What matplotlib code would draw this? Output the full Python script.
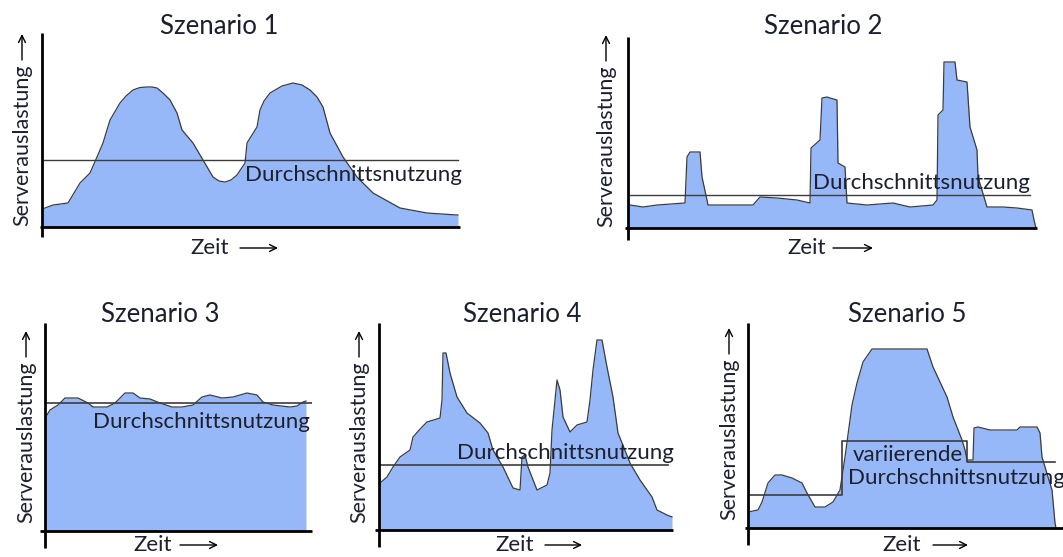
import matplotlib
matplotlib.use("Agg")
import matplotlib.pyplot as plt

W, H = 1063, 557
plt.rcParams['font.family'] = ['Lato', 'DejaVu Sans']

# Zeit (Pixel ab y-Achse) und Auslastung (Pixel ueber x-Achse)
t1 = [0, 3, 11, 26, 38, 48, 55, 61, 68, 78, 84, 91, 98, 105, 110, 115, 121, 128, 135, 140,
      151, 161, 171, 177, 183, 189, 195, 203, 205, 215, 218, 222, 228, 240, 251, 260, 268, 275,
      281, 288, 301, 315, 331, 358, 385, 415, 416]
l1 = [18, 19, 22, 24, 44, 54, 70, 84, 107, 124, 131, 137, 139.5, 140, 140, 139, 134, 127, 114, 97,
      84, 67, 50, 46, 45, 47, 52, 64, 84, 100, 117, 126, 134, 141, 144, 142, 137, 130,
      120, 94, 70, 50, 34, 19, 14, 12, 12]
avg1 = 67

t2 = [0, 2, 15, 29, 57, 59, 62, 72, 74, 79, 80, 125, 132, 149, 169, 182, 183, 192, 194, 199,
      202, 209, 210, 217, 219, 239, 265, 282, 305, 309, 310, 315, 316, 327, 329, 339, 342, 349,
      350, 359, 375, 389, 404, 406, 408]
l2 = [23, 23, 21, 23, 25, 71, 76, 76, 51, 28, 23, 23, 31, 30, 28, 25, 80, 88, 130, 131,
      130, 128, 65, 61, 25, 23, 25, 21, 23, 28, 113, 118, 166, 166, 148, 146, 101, 78,
      51, 21, 21, 20, 18, 8, 0]
avg2 = 33

t3 = [0, 2, 5, 13, 20, 33, 43, 48, 62, 70, 80, 88, 95, 105, 115, 127, 137, 148, 157, 165,
      177, 188, 202, 212, 218, 228, 245, 252, 258, 261]
l3 = [116, 116, 121, 126, 133, 133, 128, 124, 124, 128, 138, 138, 133, 132, 128, 124, 124, 126,
      134, 136, 133, 134, 138, 136, 129, 126, 124, 125, 129, 130]
avg3 = 128

t4 = [0, 1, 8, 14, 21, 31, 34, 43, 48, 61, 63, 64, 67, 71, 78, 88, 101, 109, 114, 124, 134,
      141, 143, 146, 149, 158, 168, 171, 173, 176, 178, 181, 184, 191, 198, 208, 211, 214, 218,
      223, 228, 234, 239, 251, 261, 273, 278, 288, 293]
l4 = [45, 47, 53, 63, 73, 80, 93, 103, 108, 112, 130, 177, 177, 157, 133, 117, 107, 97, 80, 63,
      42, 40, 73, 75, 63, 40, 45, 57, 100, 130, 150, 140, 113, 98, 105, 108, 130, 160, 190,
      190, 163, 133, 97, 67, 50, 33, 20, 15, 13]
avg4 = 65

t5 = [0, 10, 14, 20, 27, 34, 44, 54, 59, 67, 77, 85, 92, 97, 104, 109, 115, 124, 179, 185,
      199, 205, 214, 217, 219, 225, 226, 230, 242, 269, 272, 289, 292, 294, 300, 304, 307, 308]
l5 = [16, 18, 26, 45, 53, 53, 50, 45, 35, 21, 21, 26, 38, 71, 123, 145, 166, 179, 179, 161,
      131, 111, 88, 78, 68, 68, 100, 101, 98, 98, 101, 101, 95, 71, 51, 38, 5, 0]
# variierende Durchschnittsnutzung (Stufen)
avg5_t = [0, 94, 94, 219, 219, 307]
avg5_l = [33, 33, 87, 87, 66, 66]

titles = ["Szenario 1", "Szenario 2", "Szenario 3", "Szenario 4", "Szenario 5"]
avg_text = "Durchschnittsnutzung"

FILL = "#97b8f8"
EDGE = "#3c3c3c"
TXT = "#1c1f2e"
FS = 16

fig = plt.figure(figsize=(W / 100, H / 100), dpi=100)
fig.patch.set_facecolor("white")


def make_ax(x0, ybase, w, h):
    ax = fig.add_axes([x0 / W, (H - ybase) / H, w / W, h / H])
    ax.set_xlim(0, w)
    ax.set_ylim(0, h)
    ax.axis("off")
    return ax


def axes_lines(ax, vlo, vhi, hlo, hhi):
    ax.plot([0, 0], [vlo, vhi], color="black", lw=2, clip_on=False, solid_capstyle="butt")
    ax.plot([hlo, hhi], [0, 0], color="black", lw=2, clip_on=False, solid_capstyle="butt")


def curve(ax, t, l):
    ax.fill_between(t, l, 0, color=FILL, lw=0)
    ax.plot(t, l, color=EDGE, lw=0.9)


def arrow(x0, y0, x1, y1):
    fig.add_artist(plt.Annotation("", xy=(x1 / W, 1 - y1 / H), xytext=(x0 / W, 1 - y0 / H),
                                  xycoords="figure fraction",
                                  arrowprops=dict(arrowstyle="->,head_length=0.5,head_width=0.25",
                                                  lw=1, color="black",
                                                  shrinkA=0, shrinkB=0)))


def labels(title, tx, ty, ylx, ylb, zx, zy, ax0, ax1):
    fig.text(tx / W, 1 - ty / H, title, ha="center", va="center", fontsize=18.5, color=TXT)
    fig.text(ylx / W, 1 - ylb / H, "Serverauslastung", rotation=90, ha="center", va="bottom",
             fontsize=15.5, color=TXT)
    arrow(ylx, ylb - 166, ylx, ylb - 192)
    fig.text(zx / W, 1 - zy / H, "Zeit", ha="left", va="center", fontsize=FS, color=TXT)
    arrow(ax0, zy, ax1, zy)


# Szenario 1
ax = make_ax(42, 227, 418, 192)
curve(ax, t1, l1)
ax.plot([2, 416], [avg1, avg1], color=EDGE, lw=1)
ax.text(203, 52, avg_text, ha="left", va="center", fontsize=FS, color=TXT)
axes_lines(ax, -10, 194, -2, 418)
labels(titles[0], 219, 27, 22, 226, 190, 248, 240, 278)

# Szenario 2
ax = make_ax(628, 228, 409, 191)
curve(ax, t2, l2)
ax.plot([0, 402], [avg2, avg2], color=EDGE, lw=1)
ax.text(185, 45, avg_text, ha="left", va="center", fontsize=FS, color=TXT)
axes_lines(ax, -12, 191, -3, 409)
labels(titles[1], 823, 27, 606, 227, 787, 248, 833, 873)

# Szenario 3
ax = make_ax(45, 531, 267, 208)
curve(ax, t3, l3)
ax.plot([0, 267], [avg3, avg3], color=EDGE, lw=1.2)
ax.text(48, 109, avg_text, ha="left", va="center", fontsize=FS, color=TXT)
axes_lines(ax, -17, 208, -5, 267)
labels(titles[2], 160, 315, 26, 523, 133, 545, 180, 218)

# Szenario 4
ax = make_ax(379, 530, 294, 207)
curve(ax, t4, l4)
ax.plot([0, 289], [avg4, avg4], color=EDGE, lw=1.2)
ax.text(78, 77, avg_text, ha="left", va="center", fontsize=FS, color=TXT)
axes_lines(ax, -17, 207, -4, 294)
labels(titles[3], 522, 315, 359, 523, 495, 545, 545, 582)

# Szenario 5
ax = make_ax(748, 528, 315, 205)
curve(ax, t5, l5)
ax.plot(avg5_t, avg5_l, color=EDGE, lw=1.2)
ax.text(105, 73, "variierende", ha="left", va="center", fontsize=FS, color=TXT)
ax.text(100, 50, avg_text, ha="left", va="center", fontsize=FS, color=TXT, clip_on=False)
axes_lines(ax, -17, 205, -3, 315)
labels(titles[4], 907, 315, 729, 520, 882, 545, 933, 968)

fig.savefig("out.png", dpi=100)
